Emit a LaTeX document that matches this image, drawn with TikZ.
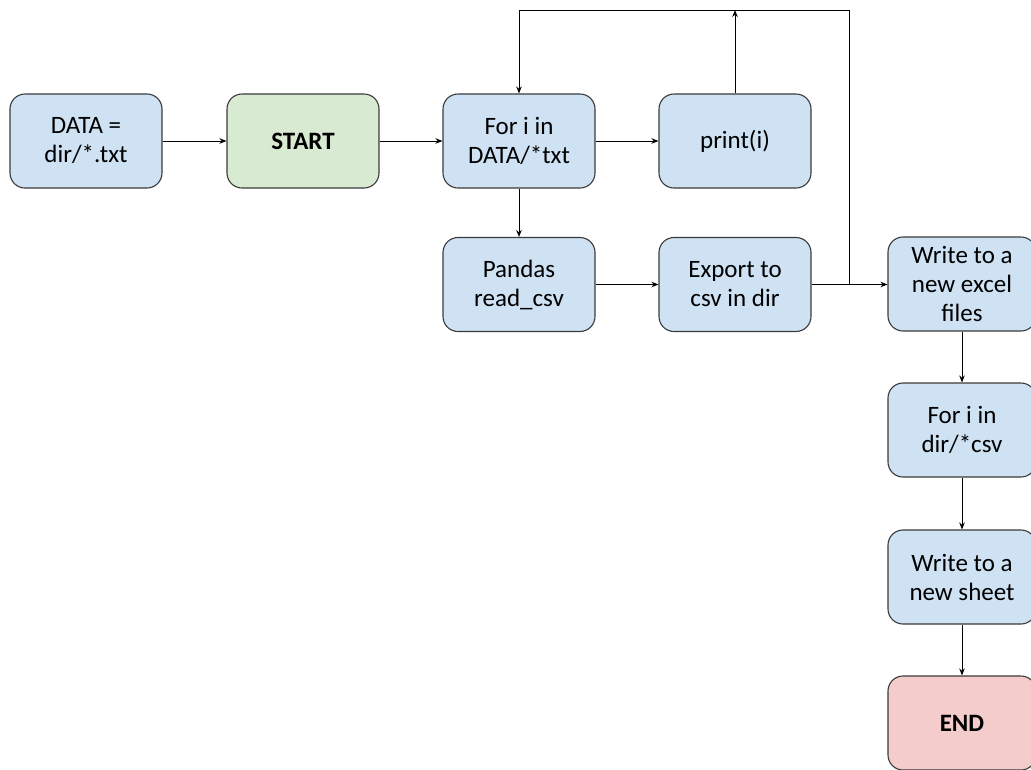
\documentclass[tikz,border=0pt]{standalone}
\usepackage{fontspec}
\setmainfont{Carlito}
\usetikzlibrary{arrows.meta}
\definecolor{bluefill}{HTML}{CFE2F3}
\definecolor{greenfill}{HTML}{D9EAD3}
\definecolor{redfill}{HTML}{F4CCCC}
\definecolor{edge}{HTML}{3A3A3A}
\tikzset{
  box/.style={draw=edge, line width=1.1pt, rounded corners=15pt, fill=bluefill,
    minimum width=152pt, minimum height=94pt, inner sep=0pt, align=center,
    font=\fontsize{25}{29}\selectfont},
  rbox/.style={box, minimum width=148pt},
  conn/.style={draw=black, line width=1pt, -{Stealth[length=7pt,width=5.5pt]}},
  plain/.style={draw=black, line width=1pt}
}
\begin{document}
\begin{tikzpicture}[x=1pt,y=-1pt]
\useasboundingbox (0,0) rectangle (1031,769);
\node[box] (data) at (86,141) {DATA =\\dir/*.txt};
\node[box, fill=greenfill, font=\fontsize{25}{29}\selectfont\bfseries] (start) at (303,141) {START};
\node[box] (fori) at (519,141) {For i in\\DATA/*txt};
\node[box] (print) at (735,141) {print(i)};
\node[box] (pandas) at (519,284.5) {Pandas\\read\_csv};
\node[box] (export) at (735,284.5) {Export to\\csv in dir};
\node[rbox] (excel) at (962,284) {Write to a\\new excel\\files};
\node[rbox] (forcsv) at (962,430) {For i in\\dir/*csv};
\node[rbox] (sheet) at (962,577) {Write to a\\new sheet};
\node[rbox, fill=redfill, font=\fontsize{25}{29}\selectfont\bfseries] (end) at (962,723) {END};
\coordinate (topr) at (849,10);
\coordinate (topl) at (519,10);
\coordinate (split) at (849,284.5);
\coordinate (ptop) at (735,10);
\draw[conn] (data) -- (start);
\draw[conn] (start) -- (fori);
\draw[conn] (fori) -- (print);
\draw[conn] (fori) -- (pandas);
\draw[conn] (pandas) -- (export);
\draw[conn] (export) -- (export.east -| excel.west);
\draw[conn] (print) -- (ptop);
\draw[plain] (split) -- (topr) -- (topl);
\draw[conn] (topl) -- (fori);
\draw[conn] (excel) -- (forcsv);
\draw[conn] (forcsv) -- (sheet);
\draw[conn] (sheet) -- (end);
\end{tikzpicture}
\end{document}
